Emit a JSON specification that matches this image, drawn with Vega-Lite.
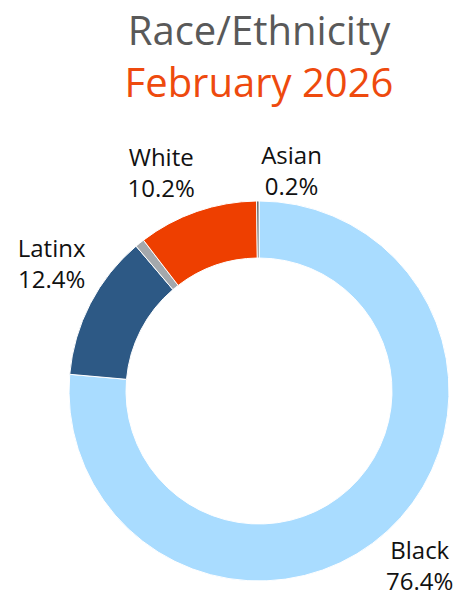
{
  "$schema": "https://vega.github.io/schema/vega-lite/v6.json",
  "width": 380,
  "height": 380,
  "autosize": "none",
  "padding": {"left": 69, "top": 201, "right": 12, "bottom": 16},
  "background": "white",
  "title": {
    "text": "Race/Ethnicity",
    "subtitle": "February 2026",
    "anchor": "middle",
    "orient": "top",
    "offset": 40,
    "font": "Open Sans",
    "fontSize": 40,
    "fontWeight": "normal",
    "color": "#595959",
    "subtitleFont": "Open Sans",
    "subtitleFontSize": 40,
    "subtitleColor": "#EE4A0E",
    "subtitlePadding": 12
  },
  "data": {
    "values": [
      {"category": "Black", "pct": 76.4, "order": 1},
      {"category": "Latinx", "pct": 12.4, "order": 2},
      {"category": "Other", "pct": 0.8, "order": 3},
      {"category": "White", "pct": 10.2, "order": 4},
      {"category": "Asian", "pct": 0.2, "order": 5}
    ]
  },
  "transform": [
    {"stack": "pct", "groupby": [], "sort": [{"field": "order", "order": "ascending"}], "as": ["start", "end"]},
    {"calculate": "(datum.start + datum.end) / 2", "as": "mid"},
    {"calculate": "datum.category + '\\n' + datum.pct + '%'", "as": "label"}
  ],
  "layer": [
    {
      "mark": {"type": "arc", "radius": 190, "radius2": 133, "stroke": "white", "strokeWidth": 1},
      "encoding": {
        "theta": {"field": "start", "type": "quantitative", "scale": {"domain": [0, 100]}},
        "theta2": {"field": "end"},
        "color": {
          "field": "category",
          "type": "nominal",
          "scale": {
            "domain": ["Black", "Latinx", "Other", "White", "Asian"],
            "range": ["#A9DCFF", "#2D5985", "#A4A8AC", "#EE3F00", "#555555"]
          },
          "legend": null
        }
      }
    },
    {
      "transform": [{"filter": "datum.category == 'Black'"}],
      "mark": {"type": "text", "radius": 238, "font": "Open Sans", "fontSize": 24, "lineBreak": "\n", "lineHeight": 31, "color": "#111111", "dy": -15},
      "encoding": {
        "theta": {"field": "mid", "type": "quantitative", "scale": {"domain": [0, 100]}},
        "text": {"field": "label", "type": "nominal"}
      }
    },
    {
      "transform": [{"filter": "datum.category == 'Latinx'"}],
      "mark": {"type": "text", "radius": 238, "font": "Open Sans", "fontSize": 24, "lineBreak": "\n", "lineHeight": 31, "color": "#111111", "dx": 4, "dy": -32},
      "encoding": {
        "theta": {"field": "mid", "type": "quantitative", "scale": {"domain": [0, 100]}},
        "text": {"field": "label", "type": "nominal"}
      }
    },
    {
      "transform": [{"filter": "datum.category == 'White'"}],
      "mark": {"type": "text", "radius": 238, "font": "Open Sans", "fontSize": 24, "lineBreak": "\n", "lineHeight": 31, "color": "#111111", "dx": -20, "dy": -7},
      "encoding": {
        "theta": {"field": "mid", "type": "quantitative", "scale": {"domain": [0, 100]}},
        "text": {"field": "label", "type": "nominal"}
      }
    },
    {
      "transform": [{"filter": "datum.category == 'Asian'"}],
      "mark": {"type": "text", "radius": 238, "font": "Open Sans", "fontSize": 24, "lineBreak": "\n", "lineHeight": 31, "color": "#111111", "dx": 34, "dy": 4},
      "encoding": {
        "theta": {"field": "mid", "type": "quantitative", "scale": {"domain": [0, 100]}},
        "text": {"field": "label", "type": "nominal"}
      }
    }
  ],
  "config": {"view": {"stroke": null}}
}
